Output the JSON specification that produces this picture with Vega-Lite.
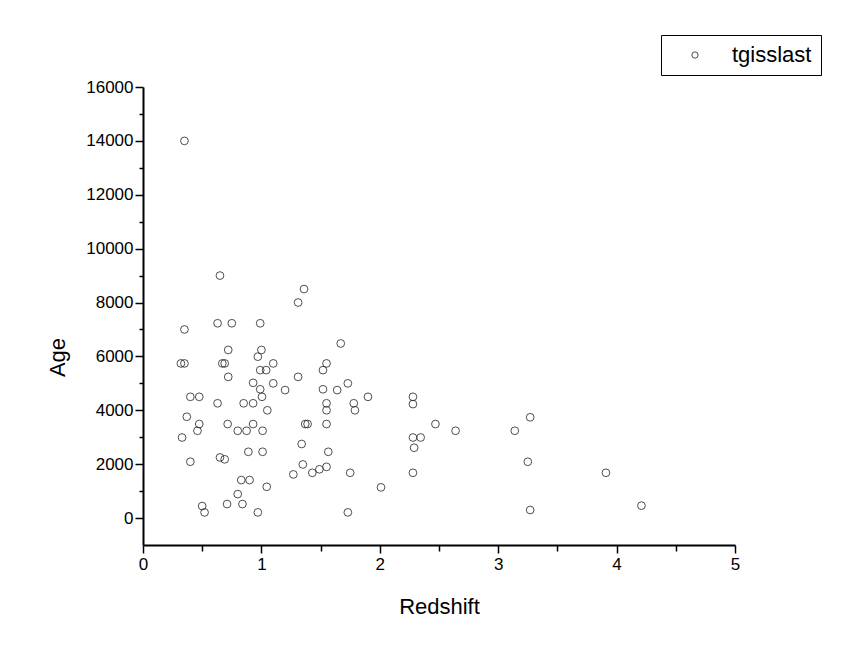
{
  "$schema": "https://vega.github.io/schema/vega-lite/v6.json",
  "width": 592,
  "height": 458,
  "autosize": {"type": "none"},
  "padding": {"left": 143, "top": 87, "right": 111, "bottom": 109},
  "background": "white",
  "config": {"view": {"stroke": null}, "font": "Liberation Sans"},
  "data": {"values": [
    {"Redshift": 0.35, "Age": 14000}, {"Redshift": 0.65, "Age": 9000}, {"Redshift": 1.36, "Age": 8500},
    {"Redshift": 1.31, "Age": 8000}, {"Redshift": 0.63, "Age": 7230}, {"Redshift": 0.75, "Age": 7230},
    {"Redshift": 0.99, "Age": 7230}, {"Redshift": 0.35, "Age": 7000}, {"Redshift": 1.67, "Age": 6480},
    {"Redshift": 0.72, "Age": 6240}, {"Redshift": 1.0, "Age": 6240}, {"Redshift": 0.97, "Age": 5990},
    {"Redshift": 0.32, "Age": 5740}, {"Redshift": 0.35, "Age": 5740}, {"Redshift": 0.67, "Age": 5740},
    {"Redshift": 0.69, "Age": 5740}, {"Redshift": 1.1, "Age": 5740}, {"Redshift": 1.55, "Age": 5740},
    {"Redshift": 1.52, "Age": 5490}, {"Redshift": 0.99, "Age": 5490}, {"Redshift": 1.04, "Age": 5490},
    {"Redshift": 0.72, "Age": 5240}, {"Redshift": 1.31, "Age": 5240}, {"Redshift": 0.93, "Age": 5020},
    {"Redshift": 1.1, "Age": 5000}, {"Redshift": 1.73, "Age": 5000}, {"Redshift": 0.99, "Age": 4780},
    {"Redshift": 1.2, "Age": 4750}, {"Redshift": 1.52, "Age": 4780}, {"Redshift": 1.64, "Age": 4750},
    {"Redshift": 1.005, "Age": 4500}, {"Redshift": 0.4, "Age": 4500}, {"Redshift": 0.475, "Age": 4500},
    {"Redshift": 1.9, "Age": 4500}, {"Redshift": 2.28, "Age": 4500}, {"Redshift": 0.63, "Age": 4260},
    {"Redshift": 0.85, "Age": 4260}, {"Redshift": 0.93, "Age": 4260}, {"Redshift": 1.55, "Age": 4260},
    {"Redshift": 1.78, "Age": 4260}, {"Redshift": 2.28, "Age": 4230}, {"Redshift": 1.55, "Age": 4000},
    {"Redshift": 1.05, "Age": 4000}, {"Redshift": 1.79, "Age": 4000}, {"Redshift": 0.37, "Age": 3760},
    {"Redshift": 3.27, "Age": 3740}, {"Redshift": 0.475, "Age": 3490}, {"Redshift": 0.715, "Age": 3490},
    {"Redshift": 0.93, "Age": 3490}, {"Redshift": 1.37, "Age": 3490}, {"Redshift": 1.39, "Age": 3490},
    {"Redshift": 1.55, "Age": 3490}, {"Redshift": 2.47, "Age": 3490}, {"Redshift": 0.46, "Age": 3240},
    {"Redshift": 0.8, "Age": 3240}, {"Redshift": 0.875, "Age": 3240}, {"Redshift": 1.01, "Age": 3240},
    {"Redshift": 2.64, "Age": 3240}, {"Redshift": 3.14, "Age": 3240}, {"Redshift": 0.33, "Age": 2990},
    {"Redshift": 2.28, "Age": 2990}, {"Redshift": 2.345, "Age": 2990}, {"Redshift": 1.34, "Age": 2750},
    {"Redshift": 2.29, "Age": 2610}, {"Redshift": 0.89, "Age": 2460}, {"Redshift": 1.01, "Age": 2460},
    {"Redshift": 1.565, "Age": 2460}, {"Redshift": 0.65, "Age": 2250}, {"Redshift": 0.69, "Age": 2180},
    {"Redshift": 0.4, "Age": 2090}, {"Redshift": 3.25, "Age": 2090}, {"Redshift": 1.35, "Age": 1990},
    {"Redshift": 1.55, "Age": 1900}, {"Redshift": 1.49, "Age": 1810}, {"Redshift": 1.43, "Age": 1680},
    {"Redshift": 1.75, "Age": 1680}, {"Redshift": 2.28, "Age": 1680}, {"Redshift": 3.91, "Age": 1680},
    {"Redshift": 1.27, "Age": 1620}, {"Redshift": 0.83, "Age": 1410}, {"Redshift": 0.9, "Age": 1410},
    {"Redshift": 1.045, "Age": 1160}, {"Redshift": 2.01, "Age": 1140}, {"Redshift": 0.8, "Age": 890},
    {"Redshift": 0.71, "Age": 520}, {"Redshift": 0.84, "Age": 520}, {"Redshift": 0.5, "Age": 445},
    {"Redshift": 4.21, "Age": 460}, {"Redshift": 3.27, "Age": 300}, {"Redshift": 0.52, "Age": 210},
    {"Redshift": 0.97, "Age": 210}, {"Redshift": 1.73, "Age": 210}
  ]},
  "mark": {"type": "point", "filled": false, "size": 60, "strokeWidth": 0.8, "opacity": 1},
  "encoding": {
    "x": {
      "field": "Redshift", "type": "quantitative",
      "scale": {"domain": [0, 5], "nice": false, "zero": false},
      "axis": {
        "title": "Redshift", "grid": false,
        "values": [0, 0.5, 1, 1.5, 2, 2.5, 3, 3.5, 4, 4.5, 5],
        "labelExpr": "datum.value % 1 === 0 ? format(datum.value, 'd') : ''",
        "domainColor": "black", "domainWidth": 2, "tickColor": "black", "tickWidth": 1.5,
        "tickSize": {"condition": {"test": "datum.value % 1 === 0", "value": 8}, "value": 6},
        "labelFontSize": 17, "labelColor": "black", "labelPadding": 3, "labelFlush": false,
        "titleFontSize": 22, "titleFontWeight": "normal", "titleColor": "black",
        "titleY": 61, "titleBaseline": "middle"
      }
    },
    "y": {
      "field": "Age", "type": "quantitative",
      "scale": {"domain": [-1000, 16000], "nice": false, "zero": false},
      "axis": {
        "title": "Age", "grid": false,
        "values": [0, 1000, 2000, 3000, 4000, 5000, 6000, 7000, 8000, 9000, 10000, 11000, 12000, 13000, 14000, 15000, 16000],
        "labelExpr": "datum.value % 2000 === 0 ? format(datum.value, 'd') : ''",
        "domainColor": "black", "domainWidth": 2, "tickColor": "black", "tickWidth": 1.5,
        "tickSize": {"condition": {"test": "datum.value % 2000 === 0", "value": 8}, "value": 4},
        "labelFontSize": 17, "labelColor": "black", "labelPadding": 2,
        "titleFontSize": 22, "titleFontWeight": "normal", "titleColor": "black",
        "titleX": -86, "titleY": 270, "titleBaseline": "middle", "titleAngle": 270
      }
    },
    "color": {
      "datum": "tgisslast", "type": "nominal",
      "scale": {"range": ["#222222"]},
      "legend": {
        "title": null, "orient": "none", "legendX": 518, "legendY": -52,
        "strokeColor": "black", "fillColor": "white", "padding": 9,
        "symbolType": "circle", "symbolSize": 40, "symbolStrokeColor": "#777777", "symbolFillColor": "transparent",
        "symbolStrokeWidth": 0.8, "symbolOffset": 14, "labelOffset": 26,
        "labelFontSize": 22, "labelColor": "black"
      }
    }
  }
}
